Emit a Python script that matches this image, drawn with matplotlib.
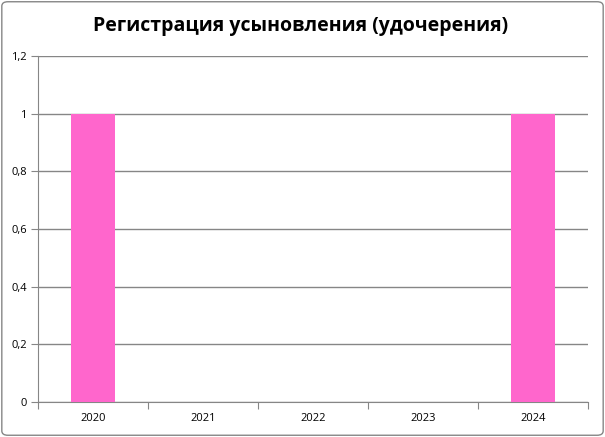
import matplotlib.pyplot as plt
from matplotlib.patches import FancyBboxPatch
from matplotlib.ticker import FixedLocator, FuncFormatter
import numpy as np

years = ["2020", "2021", "2022", "2023", "2024"]
counts = [1, 0, 0, 0, 1]
y_ticks = [0, 0.2, 0.4, 0.6, 0.8, 1.0, 1.2]

plt.rcParams['font.family'] = ['Open Sans', 'DejaVu Sans']

fig = plt.figure(figsize=(6.05, 4.37), dpi=100)
ax = fig.add_axes([0.0628, 0.0801, 0.9092, 0.7918])

x = np.arange(len(years))
ax.bar(x, counts, width=0.4, color="#FF66CC", zorder=3)

ax.set_xlim(-0.5, len(years) - 0.5)
ax.set_ylim(0, 1.2)

grey = "#868686"
ax.yaxis.set_major_locator(FixedLocator(y_ticks))
ax.yaxis.set_major_formatter(FuncFormatter(lambda v, p: f"{v:g}".replace(".", ",")))
ax.grid(axis="y", color=grey, linewidth=1, zorder=0)

# category boundaries as major ticks, labels in the middle
ax.xaxis.set_major_locator(FixedLocator(np.arange(len(years) + 1) - 0.5))
ax.xaxis.set_major_formatter(FuncFormatter(lambda v, p: ""))
ax.xaxis.set_minor_locator(FixedLocator(x))
ax.set_xticklabels(years, minor=True)
ax.tick_params(axis="x", which="minor", length=0, pad=8, labelsize=8)
ax.tick_params(axis="x", which="major", length=5, color=grey, direction="out")
ax.tick_params(axis="y", length=5, color=grey, labelsize=8, pad=3)

for side in ["top", "right"]:
    ax.spines[side].set_visible(False)
for side in ["left", "bottom"]:
    ax.spines[side].set_color(grey)

fig.text(0.497, 0.94, "Регистрация усыновления (удочерения)", ha="center", va="center",
         fontsize=14, fontweight="bold")

border = FancyBboxPatch((0.003, 0.004), 0.994, 0.992, boxstyle="round,pad=0,rounding_size=0.01",
                        transform=fig.transFigure, fill=False, edgecolor=grey, linewidth=1)
fig.patches.append(border)

fig.savefig("out.png", dpi=100)
